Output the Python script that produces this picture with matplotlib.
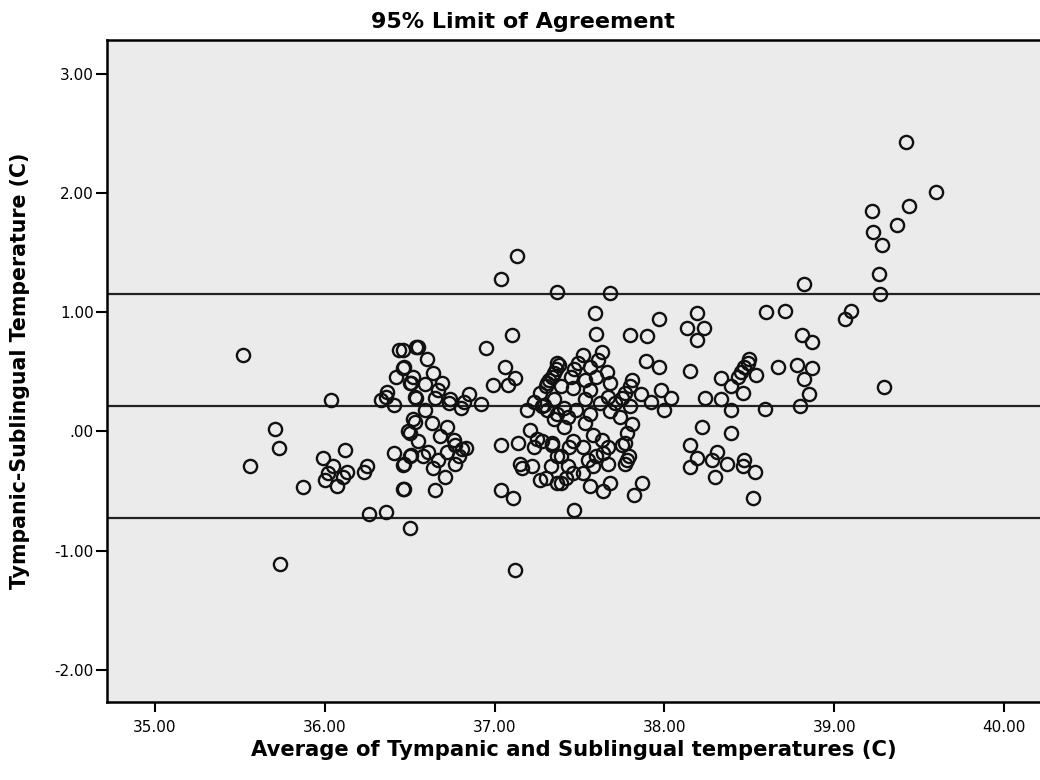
import matplotlib
matplotlib.use("Agg")
import matplotlib.pyplot as plt
from matplotlib.ticker import FuncFormatter

# average of the two readings (C)
avg_temp = [
    35.52, 36.04, 35.71, 35.73, 35.56, 35.99, 36.12, 36.05, 36.02, 36.00,
    36.07, 36.11, 36.13, 35.87, 36.25, 36.23, 36.26, 36.36, 36.50, 35.74,
    36.44, 36.54, 36.33, 36.37, 36.36, 36.41, 36.46, 36.42, 36.51, 36.54,
    36.41, 36.46, 36.50, 36.46, 36.52, 36.50,
    37.13, 37.04, 37.37, 37.10, 36.95, 36.55, 36.46, 36.60, 36.47, 36.64,
    36.52, 36.50, 36.59, 36.69, 36.67, 36.53, 36.65, 36.74, 36.73, 36.85,
    36.82, 36.80, 36.92, 36.59, 36.53, 36.63, 36.72, 36.49, 36.68, 36.55,
    36.76, 36.77, 36.81, 36.83, 36.72, 36.61, 36.58, 36.51, 36.47, 36.67,
    36.79, 36.77, 36.64, 36.71, 36.47, 36.65, 37.12, 37.06, 37.12, 36.99,
    37.08, 37.04, 37.14, 37.04, 37.11,
    37.19, 37.23, 37.27, 37.31, 37.34, 37.36, 37.37, 37.28, 37.21, 37.25,
    37.23, 37.15, 37.16, 37.34, 37.22, 37.27, 37.37, 37.37,
    37.68, 37.59, 37.97, 37.60, 37.80, 37.90, 37.89, 37.97,
    37.52, 37.49, 37.47, 37.45, 37.38, 37.35, 37.32, 37.30, 37.63, 37.61,
    37.56, 37.66, 37.60, 37.53, 37.39, 37.46, 37.56, 37.68, 37.81, 37.80,
    37.77, 37.75, 37.71, 37.86, 37.92, 37.98, 38.04, 38.00, 37.67, 37.62,
    37.53, 37.48, 37.56, 37.35, 37.29, 37.37, 37.41, 37.68, 37.74, 37.80,
    37.81, 37.78, 37.77, 37.75, 37.78, 37.79, 37.77, 37.43, 37.41, 37.35,
    37.31, 37.53, 37.58, 37.63, 37.67, 37.64, 37.60, 37.55, 37.52, 37.46,
    37.44, 37.34, 37.28, 37.39, 37.33, 37.43, 37.46, 37.42, 37.30, 37.39,
    37.52, 37.58, 37.67, 37.56, 37.64, 37.68, 37.82, 37.87, 37.47,
    38.82, 39.27, 38.19, 38.13, 38.23, 38.19, 38.60, 38.71, 39.10, 39.06,
    38.81, 38.87, 38.15, 38.50, 38.49, 38.47, 38.45, 38.43, 38.54, 38.33,
    38.39, 38.46, 38.67, 38.78, 38.87, 38.82, 38.85, 38.80, 38.59, 38.39,
    38.33, 38.24, 39.29, 38.22, 38.39, 38.15, 38.19, 38.15, 38.31, 38.28,
    38.37, 38.30, 38.47, 38.46, 38.53, 38.52,
    39.42, 39.60, 39.44, 39.22, 39.37, 39.23, 39.28, 39.26,
]

# tympanic minus sublingual (C)
diff_temp = [
    0.64, 0.26, 0.02, -0.14, -0.29, -0.22, -0.16, -0.29, -0.35, -0.41,
    -0.46, -0.38, -0.34, -0.47, -0.29, -0.34, -0.69, -0.68, -0.81, -1.11,
    0.68, 0.71, 0.26, 0.33, 0.29, 0.22, 0.53, 0.46, 0.41, 0.28,
    -0.18, -0.28, -0.21, -0.48, 0.10, -0.01,
    1.47, 1.28, 1.17, 0.81, 0.70, 0.71, 0.68, 0.61, 0.54, 0.49,
    0.46, 0.41, 0.40, 0.41, 0.35, 0.29, 0.28, 0.27, 0.24, 0.31,
    0.25, 0.20, 0.23, 0.18, 0.08, 0.07, 0.04, 0.00, -0.04, -0.08,
    -0.07, -0.11, -0.15, -0.14, -0.17, -0.17, -0.21, -0.20, -0.27, -0.24,
    -0.21, -0.27, -0.31, -0.38, -0.48, -0.49, -1.16, 0.54, 0.45, 0.39,
    0.39, -0.11, -0.10, -0.49, -0.56,
    0.18, 0.25, 0.32, 0.41, 0.46, 0.52, 0.57, 0.21, 0.01, -0.06,
    -0.13, -0.27, -0.31, -0.11, -0.29, -0.41, -0.43, -0.21,
    1.16, 0.99, 0.94, 0.82, 0.81, 0.80, 0.59, 0.54,
    0.64, 0.57, 0.52, 0.46, 0.56, 0.49, 0.43, 0.38, 0.67, 0.60,
    0.54, 0.50, 0.46, 0.43, 0.38, 0.36, 0.35, 0.41, 0.43, 0.38,
    0.32, 0.28, 0.24, 0.31, 0.25, 0.35, 0.28, 0.18, 0.29, 0.24,
    0.27, 0.18, 0.15, 0.27, 0.22, 0.15, 0.20, 0.17, 0.12, 0.21,
    0.06, -0.01, -0.10, -0.11, -0.24, -0.21, -0.27, 0.12, 0.04, 0.10,
    0.18, 0.07, -0.03, -0.07, -0.13, -0.18, -0.21, -0.24, -0.13, -0.08,
    -0.13, -0.10, -0.08, -0.21, -0.29, -0.29, -0.35, -0.39, -0.39, -0.43,
    -0.35, -0.29, -0.27, -0.46, -0.50, -0.43, -0.53, -0.43, -0.66,
    1.24, 1.15, 0.99, 0.87, 0.87, 0.77, 1.00, 1.01, 1.01, 0.94,
    0.81, 0.75, 0.51, 0.61, 0.57, 0.54, 0.50, 0.46, 0.47, 0.45,
    0.38, 0.32, 0.54, 0.56, 0.53, 0.44, 0.31, 0.21, 0.19, 0.18,
    0.27, 0.28, 0.37, 0.04, -0.01, -0.11, -0.22, -0.30, -0.17, -0.24,
    -0.27, -0.38, -0.24, -0.29, -0.34, -0.56,
    2.43, 2.01, 1.89, 1.85, 1.73, 1.67, 1.56, 1.32,
]

# mean difference and 95% limits
loa_lines = [1.15, 0.21, -0.73]

x_ticks = [35, 36, 37, 38, 39, 40]
y_ticks = [-2, -1, 0, 1, 2, 3]


def spss_fmt(v, pos=None):
    # SPSS writes zero as ".00"
    s = f"{v:.2f}"
    if s in ("0.00", "-0.00"):
        return ".00"
    return s


plt.rcParams["font.family"] = ["DejaVu Sans"]

fig = plt.figure(figsize=(10.4, 7.8), dpi=100)
ax = fig.add_axes([0.103, 0.10, 0.897, 0.849])
ax.set_facecolor("#ebebeb")

for yv in loa_lines:
    ax.axhline(yv, color="#222222", lw=1.6, zorder=1)

ax.plot(avg_temp, diff_temp, linestyle="none", marker="o", markersize=9.5,
        markerfacecolor="none", markeredgecolor="#111111", markeredgewidth=1.7,
        zorder=2)

ax.set_xlim(34.72, 40.21)
ax.set_ylim(-2.27, 3.285)
ax.set_xticks(x_ticks)
ax.set_yticks(y_ticks)
ax.xaxis.set_major_formatter(FuncFormatter(spss_fmt))
ax.yaxis.set_major_formatter(FuncFormatter(spss_fmt))
ax.tick_params(direction="out", width=1.5, labelsize=11, colors="black")
ax.tick_params(axis="x", length=7, pad=6)
ax.tick_params(axis="y", length=8, pad=1.5)

for side in ("left", "bottom", "top"):
    ax.spines[side].set_linewidth(1.8)
ax.spines["right"].set_visible(False)

fig.text(0.503, 1 - 28 / 780, "95% Limit of Agreement", ha="center",
         va="baseline", fontsize=16, fontweight="bold")
ax.set_xlabel("Average of Tympanic and Sublingual temperatures (C)",
              fontsize=15.2, fontweight="bold")
ax.set_ylabel("Tympanic-Sublingual Temperature (C)",
              fontsize=14.8, fontweight="bold")
ax.xaxis.set_label_coords(0.5, -0.058)
ax.yaxis.set_label_coords(-0.083, 0.5)

fig.savefig("out.png", dpi=100)
